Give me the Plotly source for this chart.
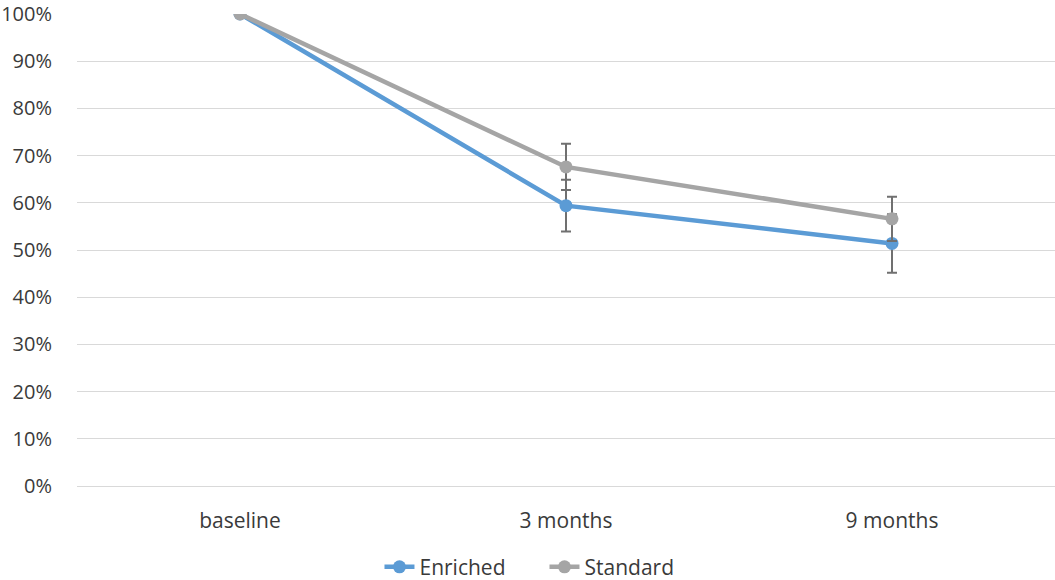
import plotly.graph_objects as go

categories = ["baseline", "3 months", "9 months"]
enriched = [100, 59.4, 51.4]
enriched_err = [0, 5.5, 6.2]
standard = [100, 67.6, 56.6]
standard_err = [0, 4.9, 4.7]
y_ticks = [0, 10, 20, 30, 40, 50, 60, 70, 80, 90, 100]
y_labels = [f"{v}%" for v in y_ticks]

FONT = "Open Sans"
TXT = "#3a3a3a"

fig = go.Figure()
fig.add_trace(go.Scatter(
    x=categories, y=enriched, name="Enriched", mode="lines+markers",
    line=dict(color="#5B9BD5", width=4.5),
    marker=dict(color="#5B9BD5", size=13),
    error_y=dict(type="data", array=enriched_err, visible=True,
                 color="#707070", thickness=2, width=5),
))
fig.add_trace(go.Scatter(
    x=categories, y=standard, name="Standard", mode="lines+markers",
    line=dict(color="#A5A5A5", width=4.5),
    marker=dict(color="#A5A5A5", size=13),
    error_y=dict(type="data", array=standard_err, visible=True,
                 color="#707070", thickness=2, width=5),
))

fig.update_layout(
    width=1055, height=580,
    margin=dict(l=77, r=0, t=14, b=94, autoexpand=False),
    paper_bgcolor="white", plot_bgcolor="white",
    font=dict(family=FONT, size=20, color=TXT),
    showlegend=True,
    legend=dict(orientation="h", x=0.478, xanchor="center", y=-0.172, yanchor="middle",
                font=dict(size=21, color=TXT), tracegroupgap=0,
                entrywidth=120, entrywidthmode="pixels"),
    xaxis=dict(type="category", range=[-0.5, 2.5], showgrid=False, automargin=False,
               showline=False, ticks="outside", ticklen=16, tickcolor="rgba(0,0,0,0)",
               tickfont=dict(size=21, color=TXT), zeroline=False),
    yaxis=dict(range=[0, 100], tickvals=y_ticks, ticktext=y_labels, automargin=False,
               showgrid=True, gridcolor="#D9D9D9", gridwidth=1.3,
               zeroline=True, zerolinecolor="#D9D9D9", zerolinewidth=1.3,
               ticks="outside", ticklen=20, tickcolor="rgba(0,0,0,0)",
               showline=False, tickfont=dict(size=20, color=TXT)),
)

fig.write_html("out.html", config={"displayModeBar": False},
               post_script="document.body.style.margin='0';")
